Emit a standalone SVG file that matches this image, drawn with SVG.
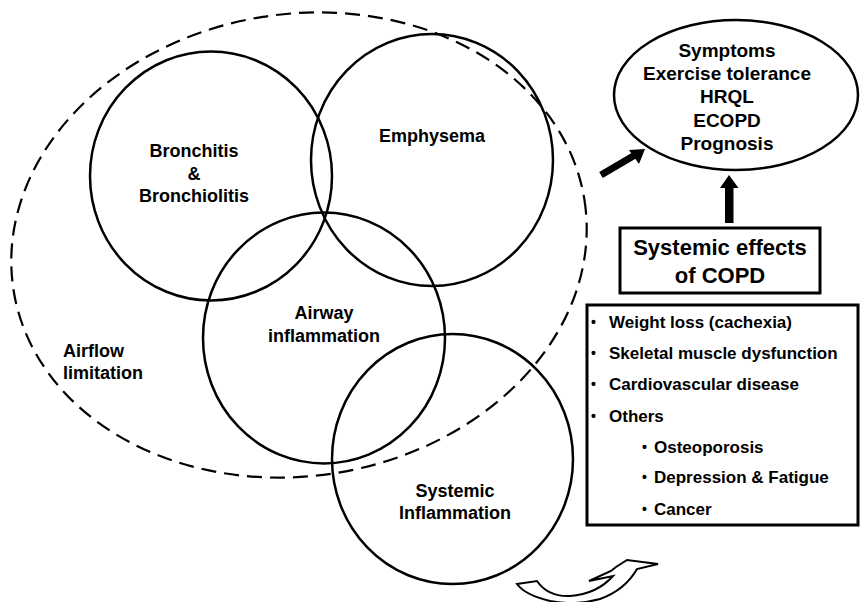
<svg xmlns="http://www.w3.org/2000/svg" width="861" height="602" viewBox="0 0 861 602">
<style>
text{font-family:"Liberation Sans",Arial,sans-serif;font-weight:bold;fill:#000}
.c{fill:none;stroke:#000;stroke-width:2.5}
.lbl{font-size:18px;text-anchor:middle}
.out{font-size:19px;text-anchor:middle}
.li{font-size:17px}
.b{font-size:14px}
.box{fill:#fff;stroke:#000;stroke-width:3}
</style>
<rect width="861" height="602" fill="#fff"/>
<g id="airflow">
<ellipse cx="299" cy="245" rx="289" ry="231" transform="rotate(-9 299 245)" fill="none" stroke="#000" stroke-width="2.2" stroke-dasharray="15 8"/>
<text x="63" y="357" style="font-size:18px">Airflow</text>
<text x="63" y="379" style="font-size:18px">limitation</text>
</g>
<g id="bronchitis">
<ellipse class="c" cx="211" cy="176" rx="121" ry="124.5"/>
<text class="lbl" x="194" y="157">Bronchitis</text>
<text class="lbl" x="194" y="180">&amp;</text>
<text class="lbl" x="194" y="202">Bronchiolitis</text>
</g>
<g id="emphysema">
<ellipse class="c" cx="432" cy="160" rx="121" ry="126"/>
<text class="lbl" x="432" y="142">Emphysema</text>
</g>
<g id="airway">
<ellipse class="c" cx="324" cy="338" rx="121" ry="125.5"/>
<text class="lbl" x="324" y="319">Airway</text>
<text class="lbl" x="324" y="342">inflammation</text>
</g>
<g id="systemic">
<ellipse class="c" cx="452.5" cy="459" rx="120.5" ry="125"/>
<text class="lbl" x="455" y="497">Systemic</text>
<text class="lbl" x="455" y="519">Inflammation</text>
</g>
<g id="outcomes">
<ellipse class="c" cx="736" cy="95" rx="122" ry="75"/>
<text class="out" x="727" y="57">Symptoms</text>
<text class="out" x="727" y="80">Exercise tolerance</text>
<text class="out" x="727" y="103">HRQL</text>
<text class="out" x="727" y="127">ECOPD</text>
<text class="out" x="727" y="150">Prognosis</text>
</g>
<g id="effects">
<rect class="box" x="620" y="228" width="200" height="65"/>
<text x="720" y="255" style="font-size:22px;text-anchor:middle">Systemic effects</text>
<text x="720" y="283" style="font-size:22px;text-anchor:middle">of COPD</text>
</g>
<g id="list">
<rect class="box" x="587" y="305" width="271" height="220"/>
<text class="b" x="591" y="327">•</text>
<text class="li" x="609" y="328">Weight loss (cachexia)</text>
<text class="b" x="591" y="358">•</text>
<text class="li" x="609" y="359">Skeletal muscle dysfunction</text>
<text class="b" x="591" y="389">•</text>
<text class="li" x="609" y="390">Cardiovascular disease</text>
<text class="b" x="591" y="421">•</text>
<text class="li" x="609" y="422">Others</text>
<text class="b" x="642" y="452">•</text>
<text class="li" x="654" y="453">Osteoporosis</text>
<text class="b" x="642" y="482">•</text>
<text class="li" x="654" y="483">Depression &amp; Fatigue</text>
<text class="b" x="642" y="514">•</text>
<text class="li" x="654" y="515">Cancer</text>
</g>
<g id="connectors">
<line x1="601" y1="175" x2="635" y2="155" stroke="#000" stroke-width="7"/>
<polygon points="645,149 629,150 639,164" fill="#000"/>
<rect x="725" y="186" width="8.5" height="37" fill="#000"/>
<polygon points="729,175 720,188 738.5,188" fill="#000"/>
<path d="M517,584 L537,581 Q548,597 570,596 Q597,594 613,576 L589,581 L611,571 L616,567 L627,560 L658,564 L637,569 Q625,590 600,599 Q575,606 550,601 Q525,595 517,584 Z" fill="#fff" stroke="#000" stroke-width="2" stroke-linejoin="miter"/>
</g>
</svg>
